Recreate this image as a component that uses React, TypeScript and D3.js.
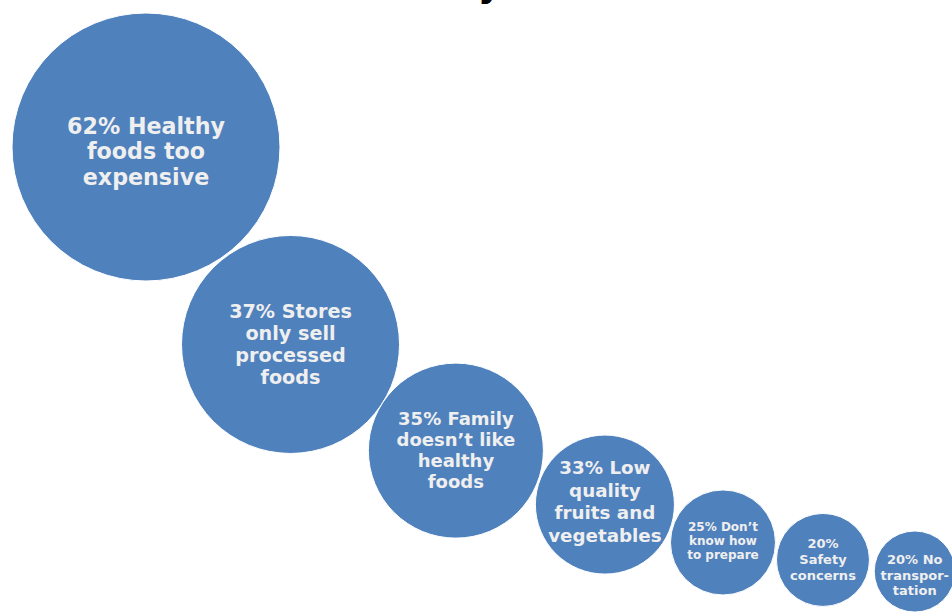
import React from "react";
import * as d3 from "d3";

// Data
const categories: string[][] = [
  ["62% Healthy", "foods too", "expensive"],
  ["37% Stores", "only sell", "processed", "foods"],
  ["35% Family", "doesn\u2019t like", "healthy", "foods"],
  ["33% Low", "quality", "fruits and", "vegetables"],
  ["25% Don\u2019t", "know how", "to prepare"],
  ["20%", "Safety", "concerns"],
  ["20% No", "transpor-", "tation"],
];
const values: number[] = [62, 37, 35, 33, 25, 20, 20];
const titleFragment = "y";

// Layout constants (rank-based, SmartArt style)
const W = 952;
const H = 614;
const rankIdx = d3.range(values.length);
const radiusScale = d3.scaleLinear<number>().domain(rankIdx).range([134, 109, 87.5, 69.5, 52.5, 46.5, 40.5]);
const angleScale = d3.scaleLinear<number>().domain(rankIdx.slice(1)).range([53.8, 32.7, 19.9, 17.8, 9.9, 7.2]);
const gapScale = d3.scaleLinear<number>().domain(rankIdx.slice(1)).range([1.7, 0, 1.5, 2, 2.5, 5.5]);
const fontScale = d3.scaleLinear<number>().domain(rankIdx).range([22.2, 19.2, 18, 18.3, 12, 13, 13]);
const lineScale = d3.scaleLinear<number>().domain(rankIdx).range([25.5, 22, 21, 22.5, 14, 16, 15.5]);
const textShift = d3.scaleLinear<number>().domain(rankIdx).range([4.5, 0, 0, -3, -2, 0, 3.5]);
const start = { x: 146, y: 147 };

type Node = { x: number; y: number; r: number; lines: string[]; v: number; i: number };

function layout(): Node[] {
  const nodes: Node[] = [];
  values.forEach((v, i) => {
    const r = radiusScale(i);
    if (i === 0) {
      nodes.push({ x: start.x, y: start.y, r, lines: categories[i], v, i });
    } else {
      const p = nodes[i - 1];
      const a = (angleScale(i) * Math.PI) / 180;
      const d = p.r + r + gapScale(i);
      nodes.push({ x: p.x + d * Math.cos(a), y: p.y + d * Math.sin(a), r, lines: categories[i], v, i });
    }
  });
  return nodes;
}

export default function App() {
  const nodes = layout();
  return (
    <svg
      width={W}
      height={H}
      style={{ position: "fixed", left: 0, top: 0, background: "#ffffff" }}
    >
      <text
        x={478}
        y={-3}
        fontFamily="DejaVu Sans"
        fontWeight="bold"
        fontSize={36}
        fill="#000"
      >
        {titleFragment}
      </text>
      {nodes.map((n) => {
        const fs = fontScale(n.i);
        const lh = lineScale(n.i);
        const off = -((n.lines.length - 1) * lh) / 2 + textShift(n.i);
        return (
          <g key={n.i}>
            <circle cx={n.x} cy={n.y} r={n.r} fill="#4f81bd" stroke="#ffffff" strokeWidth={1} />
            <text
              fontFamily="DejaVu Sans"
              fontWeight="bold"
              fontSize={fs}
              fill="#efefef"
              textAnchor="middle"
            >
              {n.lines.map((l, k) => (
                <tspan key={k} x={n.x} y={n.y + off + k * lh + fs * 0.35}>
                  {l}
                </tspan>
              ))}
            </text>
          </g>
        );
      })}
    </svg>
  );
}
